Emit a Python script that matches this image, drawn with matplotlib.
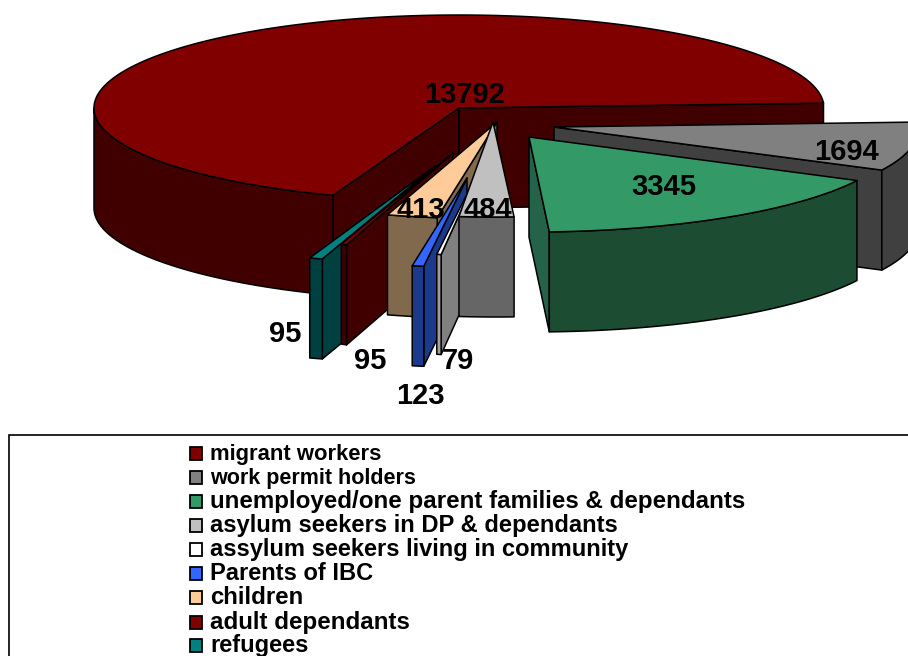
import numpy as np
import matplotlib
matplotlib.use("Agg")
import matplotlib.pyplot as plt
from matplotlib.patches import Polygon, Rectangle

plt.rcParams['font.family'] = ['Liberation Sans', 'DejaVu Sans']

categories = ["migrant workers", "work permit holders",
              "unemployed/one parent families & dependants",
              "asylum seekers in DP & dependants",
              "assylum seekers living in community",
              "Parents of IBC", "children", "adult dependants", "refugees"]
values = [13792, 1694, 3345, 484, 79, 123, 413, 95, 95]

top_cols = ['#800000', '#808080', '#339966', '#c0c0c0', '#ffffff',
            '#3366ff', '#ffcc99', '#800000', '#008080']
front_cols = ['#400000', '#404040', '#1c4d33', '#666666', '#a0a0a0',
              '#1c3a8c', '#80694c', '#400000', '#004040']
side_cols = ['#400000', '#404040', '#24634a', '#666666', '#808080',
             '#1c3a8c', '#80694c', '#400000', '#004040']

# exploded slices: apex in pixels, radii, and lean (keystone of the 3d view)
apex_x = [459, 554, 529, 493, 483, 467, 497, 453, 435]
apex_y = [108, 127, 137, 122, 162, 178, 122, 153, 166]
rad_x = [365, 364, 368, 365, 180, 305, 395, 200, 440]
rad_y = [93, 94, 95, 95, 93, 89, 97, 96, 98]
lean = [0, 0.1, 0.02, 0.03, -0.256, -0.056, 0.05, -0.53, 0.29]
depth = 100
start_angle = 249.8
draw_order = [0, 1, 2, 8, 7, 6, 5, 4, 3]

label_x = [465, 847, 664, 421, 488, 458, 420, 370, 285]
label_y = [95, 152, 187, 210, 210, 361, 396, 361, 334]
label_idx = [0, 1, 2, 6, 3, 4, 5, 7, 8]

# legend rows, the original spaces its letters so widths vary per row
legend_y = [453, 477, 501, 525, 549, 573, 597, 622, 645]
legend_size = [15.8, 15.5, 17.4, 17.1, 17.0, 17.0, 17.3, 17.4, 17.0]

sweeps = np.array(values) / sum(values) * 360
starts = start_angle - np.concatenate([[0], np.cumsum(sweeps)[:-1]])


def rim_points(i, a0, a1):
    ang = np.radians(np.linspace(a0, a1, max(int(abs(a1 - a0) * 2), 2)))
    u = np.cos(ang)
    v = -np.sin(ang)
    x = apex_x[i] + rad_x[i] * u + lean[i] * rad_y[i] * np.clip(v, 0, None)
    y = apex_y[i] + rad_y[i] * v
    return x, y, v


def wall_visible(i, edge, other):
    # hidden if going straight down from the edge runs into the top surface
    if sweeps[i] > 180:
        return True
    ex, ey = edge[0] - apex_x[i], edge[1] - apex_y[i]
    ox, oy = other[0] - apex_x[i], other[1] - apex_y[i]
    return (ex * oy - ey * ox) * ex <= 0


def draw_slice(ax, i):
    x, y, v = rim_points(i, starts[i], starts[i] - sweeps[i])
    ax_, ay_ = apex_x[i], apex_y[i]
    style = dict(edgecolor='black', linewidth=1.1, joinstyle='round')
    p0, p1 = (x[0], y[0]), (x[-1], y[-1])
    # radial walls
    for edge, other in ((p0, p1), (p1, p0)):
        if wall_visible(i, edge, other):
            wall = [(ax_, ay_), edge, (edge[0], edge[1] + depth), (ax_, ay_ + depth)]
            ax.add_patch(Polygon(wall, facecolor=side_cols[i], **style))
    # outer wall, front half only
    fx, fy = x[v >= 0], y[v >= 0]
    outer = np.r_[np.c_[fx, fy], np.c_[fx[::-1], fy[::-1] + depth]]
    ax.add_patch(Polygon(outer, facecolor=front_cols[i], **style))
    # top
    top = np.r_[[[ax_, ay_]], np.c_[x, y]]
    ax.add_patch(Polygon(top, facecolor=top_cols[i], **style))


fig = plt.figure(figsize=(9.08, 6.56), dpi=100)
ax = fig.add_axes([0, 0, 1, 1])
ax.set_xlim(0, 908)
ax.set_ylim(656, 0)
ax.axis('off')

for i in draw_order:
    draw_slice(ax, i)

for i, x, y in zip(label_idx, label_x, label_y):
    ax.text(x, y, str(values[i]), fontsize=21, fontweight='bold',
            ha='center', va='center', color='black')

# legend box runs off the right and bottom of the picture
ax.add_patch(Rectangle((9, 435), 1000, 300, facecolor='white',
                       edgecolor='black', linewidth=1.2))
for name, col, y, size in zip(categories, top_cols, legend_y, legend_size):
    ax.add_patch(Rectangle((189.5, y - 6), 12.5, 12.5, facecolor=col,
                           edgecolor='black', linewidth=1.3))
    ax.text(210, y + 7, name, fontsize=size, fontweight='bold',
            ha='left', va='baseline', color='black')

fig.savefig("out.png", dpi=100)
